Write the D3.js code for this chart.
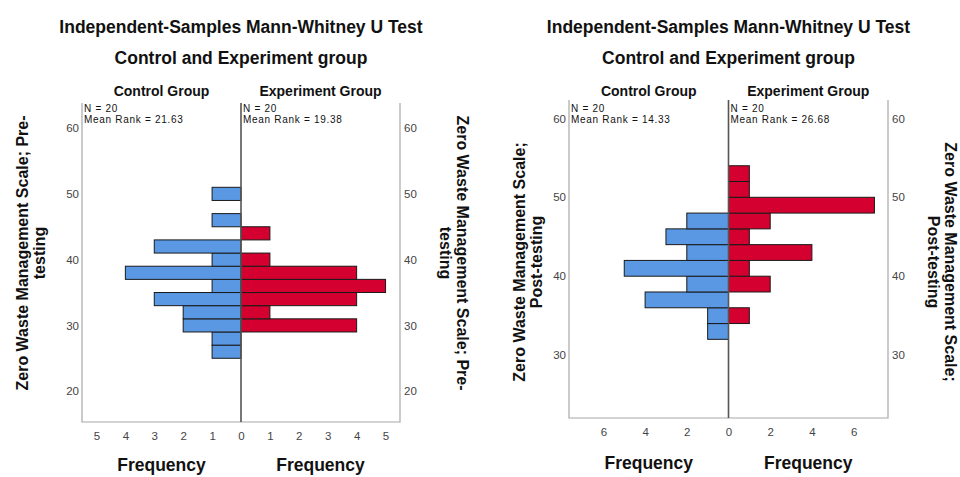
<!DOCTYPE html>
<html>
<head>
<meta charset="utf-8">
<script src="https://cdn.jsdelivr.net/npm/d3@7"></script>
<style>
  body { margin: 0; background: #fff; }
  text { font-family: "Liberation Sans", Arial, sans-serif; }
  .title { font-weight: bold; font-size: 17.5px; fill: #111; }
  .group { font-weight: bold; font-size: 14px; fill: #111; }
  .axlab { font-weight: bold; font-size: 16px; fill: #111; }
  .freq { font-weight: bold; font-size: 17.5px; fill: #111; }
  .tick text { font-size: 11.5px; fill: #444; }
  .note { font-size: 10px; fill: #111; letter-spacing: 0.7px; }
</style>
</head>
<body>
<script>
// pre-testing panel: bins of 2 points, lower edges
var preBins = [25, 27, 29, 31, 33, 35, 37, 39, 41, 43, 45, 47, 49];
var preControl = [1, 1, 2, 2, 3, 1, 4, 1, 3, 0, 1, 0, 1];
var preExperiment = [0, 0, 4, 1, 4, 5, 4, 1, 0, 1, 0, 0, 0];
var preRanks = ["21.63", "19.38"];

// post-testing panel
var postBins = [32, 34, 36, 38, 40, 42, 44, 46, 48, 50, 52];
var postControl = [1, 1, 4, 2, 5, 2, 3, 2, 0, 0, 0];
var postExperiment = [0, 1, 0, 2, 1, 4, 1, 2, 7, 1, 1];
var postRanks = ["14.33", "26.68"];

var binWidth = 2;
var groups = ["Control Group", "Experiment Group"];
var yTicks = [20, 30, 40, 50, 60];

var svg = d3.select("body").append("svg")
    .attr("width", 960)
    .attr("height", 477);

function panel(p) {
    var g = svg.append("g");
    var mid = (p.left + p.right) / 2;

    var y = d3.scaleLinear().domain(p.yDomain).range([p.bottom, p.top]);
    var xl = d3.scaleLinear().domain([0, p.xMax]).range([mid, p.left]);
    var xr = d3.scaleLinear().domain([0, p.xMax]).range([mid, p.right]);

    // titles
    g.append("text").attr("class", "title").attr("x", mid).attr("y", 33)
        .attr("text-anchor", "middle").text("Independent-Samples Mann-Whitney U Test");
    g.append("text").attr("class", "title").attr("x", mid).attr("y", 64)
        .attr("text-anchor", "middle").text("Control and Experiment group");
    g.append("text").attr("class", "group").attr("x", (p.left + mid) / 2).attr("y", 96)
        .attr("text-anchor", "middle").text(groups[0]);
    g.append("text").attr("class", "group").attr("x", (mid + p.right) / 2).attr("y", 96)
        .attr("text-anchor", "middle").text(groups[1]);

    // bars
    var rows = p.bins.map(function (b, i) {
        return { lo: b, c: p.control[i], e: p.experiment[i] };
    });
    g.selectAll(".cbar").data(rows.filter(function (d) { return d.c > 0; }))
        .enter().append("rect")
        .attr("x", function (d) { return xl(d.c); })
        .attr("y", function (d) { return y(d.lo + binWidth); })
        .attr("width", function (d) { return mid - xl(d.c); })
        .attr("height", function (d) { return y(d.lo) - y(d.lo + binWidth); })
        .attr("fill", "#5a98e4").attr("stroke", "#1a1a1a").attr("stroke-width", 1);
    g.selectAll(".ebar").data(rows.filter(function (d) { return d.e > 0; }))
        .enter().append("rect")
        .attr("x", mid)
        .attr("y", function (d) { return y(d.lo + binWidth); })
        .attr("width", function (d) { return xr(d.e) - mid; })
        .attr("height", function (d) { return y(d.lo) - y(d.lo + binWidth); })
        .attr("fill", "#d4002f").attr("stroke", "#1a1a1a").attr("stroke-width", 1);

    // frame
    g.append("path")
        .attr("d", "M" + p.left + "," + p.top + "V" + p.bottom + "H" + p.right + "V" + p.top)
        .attr("fill", "none").attr("stroke", "#a8a8a8").attr("stroke-width", 1.2);
    g.append("line").attr("x1", mid).attr("x2", mid).attr("y1", p.top).attr("y2", p.bottom)
        .attr("stroke", "#555").attr("stroke-width", 1.6);

    // x axes
    var ax1 = g.append("g").attr("transform", "translate(0," + p.bottom + ")")
        .call(d3.axisBottom(xl).tickValues(p.xTicks.filter(function (t) { return t > 0; }))
            .tickSize(0).tickPadding(10).tickFormat(d3.format("d")));
    var ax2 = g.append("g").attr("transform", "translate(0," + p.bottom + ")")
        .call(d3.axisBottom(xr).tickValues(p.xTicks)
            .tickSize(0).tickPadding(10).tickFormat(d3.format("d")));
    ax1.select(".domain").remove();
    ax2.select(".domain").remove();

    // y axes both sides
    var shown = yTicks.filter(function (t) { return t > p.yDomain[0]; });
    var ay1 = g.append("g").attr("transform", "translate(" + (p.left - 3) + ",0)")
        .call(d3.axisLeft(y).tickValues(shown).tickSize(0).tickPadding(0));
    var ay2 = g.append("g").attr("transform", "translate(" + (p.right + 4) + ",0)")
        .call(d3.axisRight(y).tickValues(shown).tickSize(0).tickPadding(0));
    ay1.select(".domain").remove();
    ay2.select(".domain").remove();

    g.append("text").attr("class", "freq").attr("x", (p.left + mid) / 2).attr("y", p.freqY)
        .attr("text-anchor", "middle").text("Frequency");
    g.append("text").attr("class", "freq").attr("x", (mid + p.right) / 2).attr("y", p.freqY)
        .attr("text-anchor", "middle").text("Frequency");

    // N and mean rank notes
    [p.left + 2, mid + 2].forEach(function (x0, i) {
        g.append("text").attr("class", "note").attr("x", x0).attr("y", 112).text("N = 20");
        g.append("text").attr("class", "note").attr("x", x0).attr("y", 122.5)
            .text("Mean Rank = " + p.ranks[i]);
    });

    // rotated variable labels
    var ll = g.append("text").attr("class", "axlab").attr("text-anchor", "middle")
        .attr("transform", "translate(" + p.labL + "," + p.labY + ") rotate(-90)");
    ll.append("tspan").attr("x", 0).attr("dy", 0).text(p.label[0]);
    ll.append("tspan").attr("x", 0).attr("dy", 17).text(p.label[1]);
    var lr = g.append("text").attr("class", "axlab").attr("text-anchor", "middle")
        .attr("transform", "translate(" + p.labR + "," + p.labY + ") rotate(90)");
    lr.append("tspan").attr("x", 0).attr("dy", 0).text(p.label[0]);
    lr.append("tspan").attr("x", 0).attr("dy", 17).text(p.label[1]);
}

panel({
    left: 82, right: 400, top: 103, bottom: 422,
    yDomain: [15.31, 63.82], xMax: 5.5, xTicks: [0, 1, 2, 3, 4, 5],
    bins: preBins, control: preControl, experiment: preExperiment, ranks: preRanks,
    freqY: 471, labL: 28, labR: 457, labY: 253,
    label: ["Zero Waste Management Scale; Pre-", "testing"]
});

panel({
    left: 569, right: 888, top: 100, bottom: 418,
    yDomain: [22.03, 62.33], xMax: 7.65, xTicks: [0, 2, 4, 6],
    bins: postBins, control: postControl, experiment: postExperiment, ranks: postRanks,
    freqY: 469, labL: 525, labR: 945, labY: 262,
    label: ["Zero Waste Management Scale;", "Post-testing"]
});
</script>
</body>
</html>
